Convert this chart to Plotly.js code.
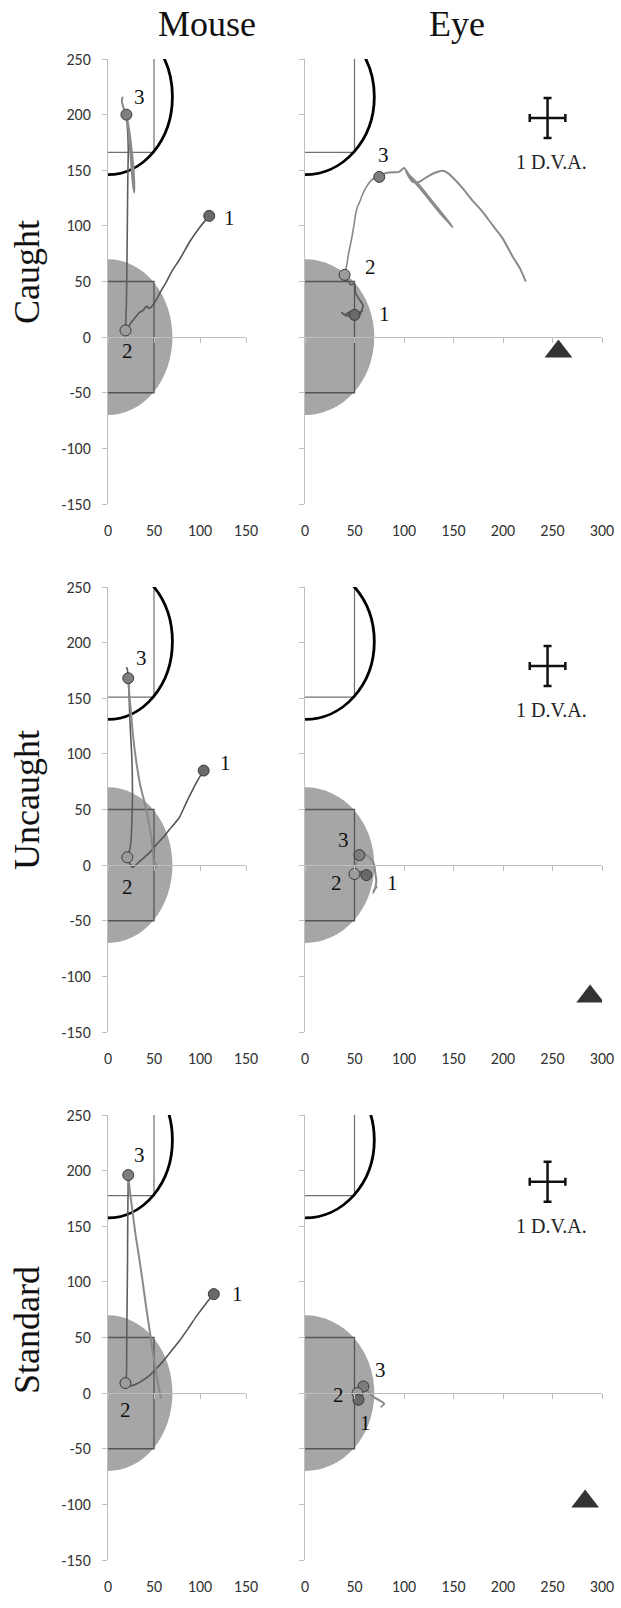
<!DOCTYPE html>
<html><head><meta charset="utf-8">
<script src="https://cdn.plot.ly/plotly-3.0.1.min.js"></script>
<style>html,body{margin:0;padding:0;background:#fff}</style>
</head><body>
<div id="chart" style="width:621px;height:1608px"></div>
<script>
// ---------------- DATA ----------------
const rowNames = ['Caught', 'Uncaught', 'Standard'];
const colNames = ['Mouse', 'Eye'];
const xTicksMouse = [0, 50, 100, 150];
const xTicksEye = [0, 50, 100, 150, 200, 250, 300];
const yTicks = [-150, -100, -50, 0, 50, 100, 150, 200, 250];
const yTickLabels = ['-150', '-100', '-50', '0', '50', '100', '150', '200', '250'];
const pointNames = ['1', '2', '3'];

// start area (gray disc + box) and target (black circle + box), per row
const startRadius = 70, startHalfBox = 50;
const targetRadius = 70, targetHalfBox = 50;
const targetCenterY = [216, 201, 227.5];

// Mouse / Caught
const mouseCaughtPts = [[110,109],[19,6],[20,200]];
const mouseCaughtTo2 = [[110,109],[100,99],[89,86],[78,70],[70,60],[63,49],[58,42],[52,33],[47,27],[44,26],[42,28],[38,24],[34,22],[30,18],[26,14],[22,9],[19,6]];
const mouseCaughtTo3 = [[19,6],[20,30],[20.5,60],[21,100],[21.5,140],[22,170],[21,190],[20,200]];
const mouseCaughtAfter3 = [[20,200],[23,186],[26,166],[28,148],[28.5,130],[27,138],[25,158],[23,178],[21,194],[17,206],[15,212],[16,216]];
// Eye / Caught
const eyeCaughtPts = [[50,20],[40,56],[75,144]];
const eyeCaughtTo2 = [[50,20],[56,22],[58,24],[52,21],[46,23],[40,20],[37,22],[42,19],[48,21],[55,20],[58.6,28.6],[54,35],[51,40],[50,48],[46,47],[44,50],[41,51],[40,56]];
const eyeCaughtTo3 = [[40,56],[42,64],[44,75],[47,88],[49.5,101],[51,110],[53,117],[55,121],[58,128],[62,135],[66,140],[70,143],[75,144]];
const eyeCaughtAfter3 = [[75,144],[80,147],[85,148],[95,148.5],[100,152],[105,146],[115,137],[125,126],[135,115],[144,105],[149,99],[146,102],[136,112],[126,123],[116,134],[106,144],[102,149],[105,144],[108,140],[113,139],[118,141],[125,145],[132,148],[139,149.5],[145,147],[152,141],[160,133],[169,123],[180,112],[190,100],[199.5,89],[210,72],[217,62],[223,50]];
// Mouse / Uncaught
const mouseUncaughtPts = [[104,85],[21,7],[22,168]];
const mouseUncaughtTo2 = [[104,85],[98,77],[92,67.6],[85,56],[77.7,43],[72,37],[66.8,32],[60,25],[52,18],[45,11],[37.6,5.7],[30,0],[26.6,-2],[24,1],[21,7]];
const mouseUncaughtTo3 = [[21,7],[23,12],[24.8,20],[26,40],[26.6,64.6],[26,95],[24,126.6],[23,150],[22,168],[21,176],[20,178]];
const mouseUncaughtAfter3 = [[22,168],[23.5,150],[24.8,139],[27,118],[30.3,95.6],[35,72],[41,52],[45,35],[47.8,21],[49,10],[50,0],[51,-3],[52,2],[53,-2]];
// Eye / Uncaught
const eyeUncaughtPts = [[62,-9],[50,-8],[55,9]];
const eyeUncaughtTo2 = [[62,-9],[57,-6],[50,-8]];
const eyeUncaughtTo3 = [[50,-8],[51,-3],[52,2],[54,6],[55,9]];
const eyeUncaughtAfter3 = [[55,9],[59,10],[64,8],[68,4],[70,0],[71,-7],[72,-14],[71,-20],[69,-25],[70,-22],[73,-19]];
// Mouse / Standard
const mouseStandardPts = [[115,89],[19,9],[22,196]];
const mouseStandardTo2 = [[115,89],[106,80],[96,69],[87,58],[77.7,47],[68,37],[59.5,28.3],[52,21.5],[44.9,15.7],[37,11],[30.3,7.9],[25,6.5],[21,7],[19,9]];
const mouseStandardTo3 = [[19,9],[20,15.7],[20.5,60],[21.2,116],[21.5,160],[22,196]];
const mouseStandardAfter3 = [[22,196],[24,180],[26.6,163.5],[30,142],[34,121],[37.6,100.6],[41,80],[45,58],[48.5,37.7],[52,20],[55,6],[57.7,-4.7]];
// Eye / Standard
const eyeStandardPts = [[54,-6],[53,0],[59,6]];
const eyeStandardTo2 = [[54,-6],[52,-3],[53,0]];
const eyeStandardTo3 = [[53,0],[55,3],[59,6]];
const eyeStandardAfter3 = [[59,6],[62,4],[66.4,-1.6],[70,-4],[74.8,-6.3],[78,-8],[80,-9.4],[76.5,-12.6]];

// 1 D.V.A. scale cross and triangle (eye panels, per row)
const dvaLabel = '1 D.V.A.';
const dvaCenter = [[245,197],[245,179],[245,190]];
const dvaHalf = 18;
const trianglePos = [[256,-13],[288,-118],[283,-97.5]];

// ---------------- LAYOUT ----------------
const W = 621, H = 1608;
const rowTopPx = [59, 587, 1115], rowHPx = 445;
const colPx = [[108, 246], [305, 602]];
const xRanges = [[0, 150], [0, 300]];
const yRange = [-150, 250];

const panelData = [
  [mouseCaughtPts, mouseCaughtTo2, mouseCaughtTo3, mouseCaughtAfter3],
  [eyeCaughtPts, eyeCaughtTo2, eyeCaughtTo3, eyeCaughtAfter3],
  [mouseUncaughtPts, mouseUncaughtTo2, mouseUncaughtTo3, mouseUncaughtAfter3],
  [eyeUncaughtPts, eyeUncaughtTo2, eyeUncaughtTo3, eyeUncaughtAfter3],
  [mouseStandardPts, mouseStandardTo2, mouseStandardTo3, mouseStandardAfter3],
  [eyeStandardPts, eyeStandardTo2, eyeStandardTo3, eyeStandardAfter3]
];
// pixel offsets of number labels from their points (style)
const labelShift = [
  [[20,-2],[2,-21],[13,18]],
  [[30,1],[26,8],[4,22]],
  [[22,8],[0,-30],[13,20]],
  [[26,-8],[-18,-9],[-16,15]],
  [[24,0],[0,-27],[11,20]],
  [[7,-23],[-19,-2],[17,16]]
];

const serif = 'Liberation Serif, Times New Roman, serif';
const sans = 'Carlito, Lato, Open Sans, sans-serif';
const tickFont = {family: sans, size: 16, color: '#333333'};
const axisGray = '#bfbfbf';
const segColors = ['#555555', '#5e5e5e', '#8a8a8a'];
const segWidths = [1.6, 1.6, 2];
const ptColors = ['#696969', '#9c9c9c', '#7e7e7e'];

const traces = [];
const layout = {
  width: W, height: H, margin: {l:0, r:0, t:0, b:0},
  paper_bgcolor: '#ffffff', plot_bgcolor: 'rgba(0,0,0,0)',
  showlegend: false, shapes: [], annotations: []
};

for (let r = 0; r < 3; r++) {
  for (let c = 0; c < 2; c++) {
    const p = r * 2 + c, n = p + 1;
    const xa = 'x' + n, ya = 'y' + n, xz = 'x' + (n + 6);
    const ydom = [1 - (rowTopPx[r] + rowHPx) / H, 1 - rowTopPx[r] / H];
    const xdom = [colPx[c][0] / W, colPx[c][1] / W];
    const xt = c === 0 ? xTicksMouse : xTicksEye;
    layout['xaxis' + n] = {
      domain: xdom, range: xRanges[c], anchor: ya, tickvals: xt,
      showline: false, ticks: '', zeroline: false, showgrid: false,
      tickfont: tickFont, ticklabelstandoff: 15, fixedrange: true
    };
    layout['yaxis' + n] = {
      domain: ydom, range: yRange, anchor: xa, tickvals: yTicks, ticktext: yTickLabels, showticklabels: c === 0,
      showline: true, linecolor: axisGray, linewidth: 1, ticks: 'outside', ticklen: 5,
      tickcolor: axisGray, tickwidth: 1, zeroline: false, showgrid: false,
      tickfont: tickFont, ticklabelstandoff: 8, fixedrange: true
    };
    const zeroPos = ydom[0] + (0 - yRange[0]) / (yRange[1] - yRange[0]) * (ydom[1] - ydom[0]);
    layout['xaxis' + (n + 6)] = {
      overlaying: xa, anchor: 'free', position: zeroPos, range: xRanges[c], tickvals: xt,
      showticklabels: false, showline: true, linecolor: axisGray, linewidth: 1,
      ticks: 'outside', ticklen: 5, tickcolor: axisGray, tickwidth: 1,
      showgrid: false, zeroline: false, fixedrange: true
    };
    traces.push({type: 'scatter', x: [null], y: [null], xaxis: xz, yaxis: ya, mode: 'markers', hoverinfo: 'skip'});

    // start disc + box
    layout.shapes.push({type: 'circle', xref: xa, yref: ya, x0: -startRadius, x1: startRadius, y0: -startRadius, y1: startRadius,
      fillcolor: '#a6a6a6', line: {width: 0}, layer: 'below'});
    layout.shapes.push({type: 'rect', xref: xa, yref: ya, x0: -startHalfBox, x1: startHalfBox, y0: -startHalfBox, y1: startHalfBox,
      line: {color: '#555555', width: 1.3}, layer: 'below'});
    // target box + circle
    const tc = targetCenterY[r];
    layout.shapes.push({type: 'rect', xref: xa, yref: ya, x0: -targetHalfBox, x1: targetHalfBox, y0: tc - targetHalfBox, y1: tc + targetHalfBox,
      line: {color: '#707070', width: 1.2}, layer: 'below'});
    layout.shapes.push({type: 'circle', xref: xa, yref: ya, x0: -targetRadius, x1: targetRadius, y0: tc - targetRadius, y1: tc + targetRadius,
      line: {color: '#000000', width: 2.8}, layer: 'below'});

    // trajectory segments
    const d = panelData[p];
    for (let s = 0; s < 3; s++) {
      const seg = d[s + 1];
      traces.push({type: 'scatter', mode: 'lines', xaxis: xa, yaxis: ya,
        x: seg.map(q => q[0]), y: seg.map(q => q[1]),
        line: {color: c === 1 && s > 0 ? '#8a8a8a' : segColors[s], width: segWidths[s], shape: 'spline', smoothing: 0.6},
        hoverinfo: 'skip'});
    }
    // points 3,2,1 (1 on top)
    const pts = d[0];
    const order = [2, 1, 0];
    traces.push({type: 'scatter', mode: 'markers', xaxis: xa, yaxis: ya,
      x: order.map(i => pts[i][0]), y: order.map(i => pts[i][1]),
      marker: {size: 11, color: order.map(i => ptColors[i]), line: {color: '#3a3a3a', width: 1}},
      hoverinfo: 'skip'});
    for (let i = 0; i < 3; i++) {
      layout.annotations.push({xref: xa, yref: ya, x: pts[i][0], y: pts[i][1], text: pointNames[i],
        showarrow: false, xshift: labelShift[p][i][0], yshift: labelShift[p][i][1],
        font: {family: serif, size: 21, color: '#111'}});
    }

    if (c === 1) {
      const cc = dvaCenter[r];
      traces.push({type: 'scatter', mode: 'markers', xaxis: xa, yaxis: ya, x: [cc[0]], y: [cc[1]],
        marker: {size: 1, color: 'rgba(0,0,0,0)'},
        error_x: {type: 'constant', value: dvaHalf, color: '#111', thickness: 2.5, width: 4},
        error_y: {type: 'constant', value: dvaHalf, color: '#111', thickness: 2.5, width: 4},
        hoverinfo: 'skip'});
      layout.annotations.push({xref: xa, yref: ya, x: cc[0], y: cc[1], text: dvaLabel, showarrow: false,
        xshift: 4, yshift: -44, font: {family: serif, size: 20, color: '#222'}});
      const tp = trianglePos[r];
      traces.push({type: 'scatter', mode: 'markers', xaxis: xa, yaxis: ya, x: [tp[0]], y: [tp[1]],
        marker: {symbol: 'triangle-up', size: 24, color: '#333333'}, hoverinfo: 'skip'});
    }
  }
}

// column titles and row titles
const colTitleX = [207, 457];
colNames.forEach((t, i) => layout.annotations.push({xref: 'paper', yref: 'paper', x: colTitleX[i] / W, y: 1 - 24 / H,
  text: t, showarrow: false, xanchor: 'center', yanchor: 'middle', font: {family: serif, size: 36, color: '#111'}}));
const rowTitleY = [272, 800, 1330];
rowNames.forEach((t, i) => layout.annotations.push({xref: 'paper', yref: 'paper', x: 27 / W, y: 1 - rowTitleY[i] / H,
  text: t, showarrow: false, textangle: -90, xanchor: 'center', yanchor: 'middle', font: {family: serif, size: 36, color: '#111'}}));

Plotly.newPlot('chart', traces, layout, {displayModeBar: false, staticPlot: true});
</script>
</body></html>
